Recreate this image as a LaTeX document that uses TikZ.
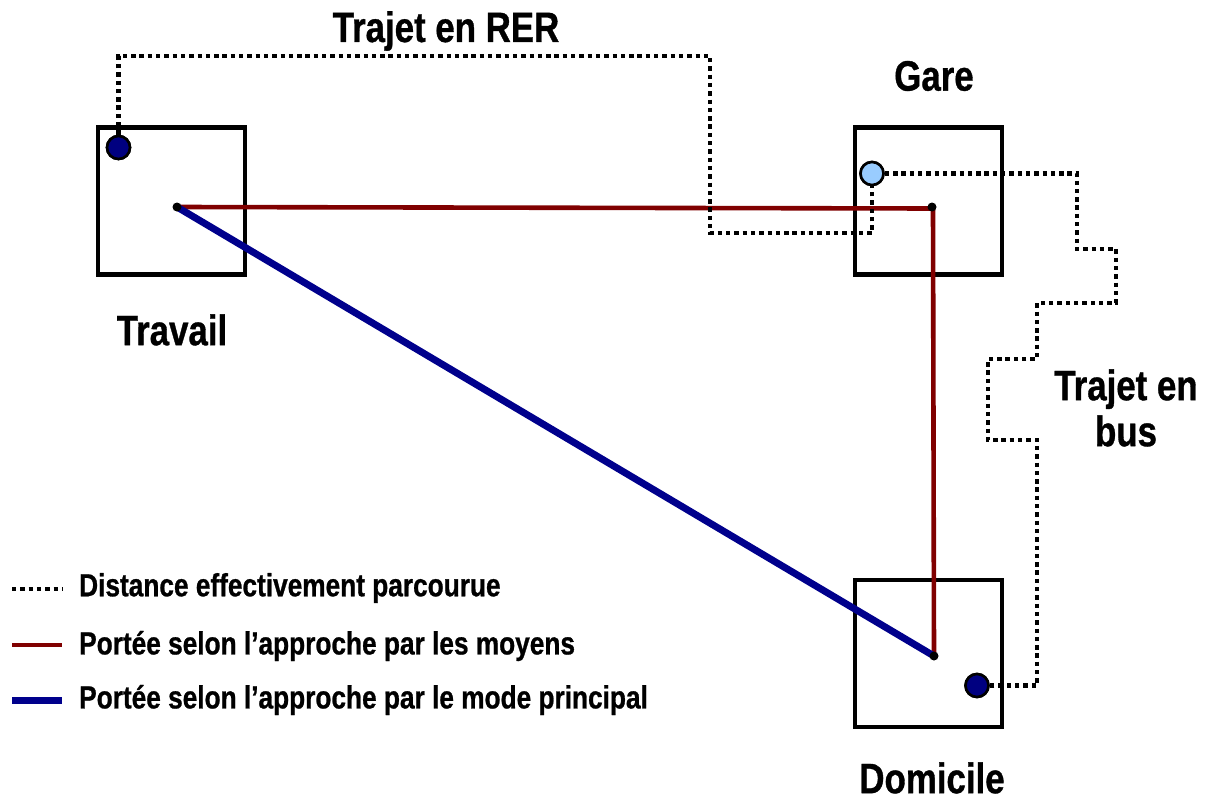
\documentclass[tikz,border=0pt]{standalone}
\usepackage{fontspec}
\setmainfont{Liberation Sans}[FakeStretch=0.82, BoldFeatures={FakeBold=0.8}]
\definecolor{navyblue}{RGB}{0,0,128}
\definecolor{skyblue}{RGB}{153,204,255}
\definecolor{darkred}{RGB}{128,0,0}
\definecolor{lineblue}{RGB}{0,0,140}
\tikzset{
  place/.style={draw=black, line width=4.6pt, fill=white, minimum width=147pt, minimum height=147pt, inner sep=0pt},
  label/.style={font=\fontsize{42.5}{46}\selectfont\bfseries, align=center, inner sep=0pt},
  legendtext/.style={font=\fontsize{32}{35}\selectfont\bfseries, anchor=west, inner sep=0pt},
  trip/.style={line width=4.8pt, dash pattern=on 4.4pt off 3.9pt},
  means/.style={draw=darkred, line width=4.6pt},
  mainmode/.style={draw=lineblue, line width=7pt},
  stop/.style={circle, draw=black, line width=2.6pt, minimum size=23pt, inner sep=0pt},
  centre/.style={circle, fill=black, minimum size=9pt, inner sep=0pt}
}
\begin{document}
\begin{tikzpicture}[x=1pt, y=-1pt]
\useasboundingbox (0,0) rectangle (1208,800);

% the three places
\node[place] (travail) at (171.5,201) {};
\node[place] (gare) at (928.5,201) {};
\node[place] (domicile) at (928.5,653.5) {};

\node[label] (ltravail) at (172,330) {Travail};
\node[label] (lgare) at (934,76) {Gare};
\node[label] (ldomicile) at (932,778) {Domicile};
\node[label] (lrer) at (446,31) {Trajet en RER};
\node[label] (lbus) at (1126,408) {Trajet en\\bus};

% centres of the places
\coordinate (tc) at (177,207);
\coordinate (gc) at (933,208.5);
\coordinate (dc) at (934,656);

% ranges
\draw[means] (tc) -- (gc) -- (dc);
\draw[mainmode] (tc) -- (dc);

% stops
\node[stop, fill=navyblue] (tstop) at (118.5,147.5) {};
\node[stop, fill=skyblue] (gstop) at (872,173.5) {};
\node[stop, fill=navyblue] (dstop) at (977,685.5) {};

% route actually travelled
\draw[trip] (tstop.north) |- (710,56) |- (872,233) -- (gstop.south);
\draw[trip] (gstop.east) -| (1077,249) -| (1116,303) -| (1037,359) -| (988,440) -| (1037,685.5) -- (dstop.east);

\node[stop, fill=navyblue] at (tstop) {};
\node[stop, fill=skyblue] at (gstop) {};
\node[stop, fill=navyblue] at (dstop) {};

\node[centre] (tdot) at (tc) {};
\node[centre] (gdot) at (932,207) {};
\node[centre] (ddot) at (dc) {};

% legend
\coordinate (k1a) at (12,589);
\coordinate (k1b) at (62,589);
\coordinate (k2a) at (12,645);
\coordinate (k2b) at (62,645);
\coordinate (k3a) at (12,700);
\coordinate (k3b) at (62,700);
\draw[trip] (k1a) -- (k1b);
\draw[means] (k2a) -- (k2b);
\draw[mainmode] (k3a) -- (k3b);
\node[legendtext] (t1) at (79,588) {Distance effectivement parcourue};
\node[legendtext] (t2) at (79,646) {Portée selon l’approche par les moyens};
\node[legendtext] (t3) at (79,700) {Portée selon l’approche par le mode principal};
\end{tikzpicture}
\end{document}
